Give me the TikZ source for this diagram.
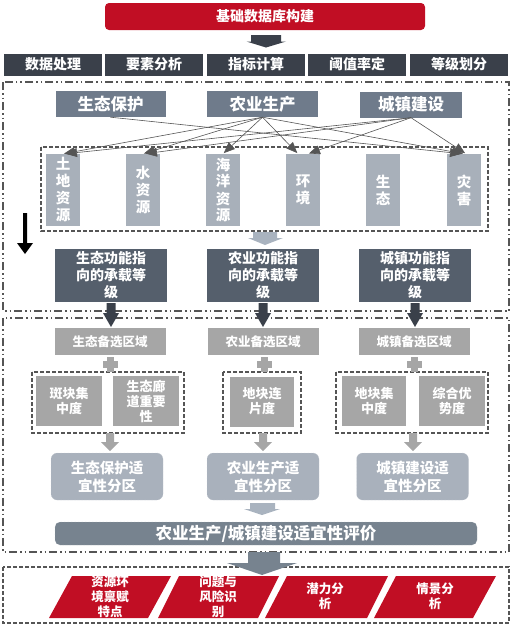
\documentclass[tikz,border=0pt]{standalone}
\usepackage{fontspec}
\setmainfont{Noto Sans CJK SC}
\usetikzlibrary{arrows.meta}
\definecolor{cRed}{HTML}{C10E24}
\definecolor{cDark}{HTML}{3A404A}
\definecolor{cHead}{HTML}{6F7B8B}
\definecolor{cFunc}{HTML}{555F6C}
\definecolor{cRes}{HTML}{A8B0BA}
\definecolor{cGray}{HTML}{A6A6A6}
\definecolor{cSuit}{HTML}{A9B1BC}
\definecolor{cEval}{HTML}{77838F}
\definecolor{cLine}{HTML}{555555}
\definecolor{cLight}{HTML}{A9B3BF}
\begin{document}
\begin{tikzpicture}[x=1pt,y=-1pt,
  every node/.style={inner sep=0pt, text=white, align=center},
  redbox/.style={fill=cRed, rounded corners=4pt, minimum width=320pt, minimum height=27pt, font=\bfseries\fontsize{14}{16}\selectfont},
  rowbox/.style={fill=cDark, minimum width=98pt, minimum height=22pt, font=\bfseries\fontsize{14}{16}\selectfont},
  headbox/.style={fill=cHead, minimum height=26pt, font=\bfseries\fontsize{16.5}{18}\selectfont},
  resbox/.style={fill=cRes, minimum width=34pt, minimum height=72pt, font=\bfseries\fontsize{14.5}{17}\selectfont},
  funcbox/.style={fill=cFunc, minimum width=112pt, minimum height=53pt, font=\bfseries\fontsize{14}{17}\selectfont},
  candbox/.style={fill=cGray, minimum width=111pt, minimum height=27pt, font=\bfseries\fontsize{12.5}{14}\selectfont},
  critbox/.style={fill=cGray, minimum width=66pt, minimum height=50pt, font=\bfseries\fontsize{13}{15}\selectfont},
  suitbox/.style={fill=cSuit, draw=cSuit!60!white, densely dotted, rounded corners=6pt, minimum width=112pt, minimum height=47pt, font=\bfseries\fontsize{14.5}{18}\selectfont},
  evalbox/.style={fill=cEval, draw=cEval!60!white, densely dotted, rounded corners=5pt, minimum width=422pt, minimum height=23pt, font=\bfseries\fontsize{16.5}{18}\selectfont},
  redtext/.style={font=\bfseries\fontsize{12.5}{15}\selectfont},
  ddframe/.style={draw=cLine, line width=1.2pt, dash pattern=on 8pt off 3pt on 1.5pt off 3pt on 1.5pt off 3pt},
  dframe/.style={draw=cLine, line width=1.2pt, dash pattern=on 4pt off 2pt},
  conn/.style={draw=cLine, line width=0.6pt, -{Triangle[length=11pt,width=9pt]}, shorten >=1pt}
]
\useasboundingbox (0,0) rectangle (511,627);

% frames
\draw[ddframe] (3,82) rectangle (509,311);
\draw[ddframe] (3,318) rectangle (509,552);
\draw[dframe] (41,147) rectangle (488,231);
\draw[dframe] (32,372) rectangle (184,433);
\draw[dframe] (223,372) rectangle (301,433);
\draw[dframe] (336,372) rectangle (488,433);
\draw[dframe] (3,567) rectangle (509,623);

% top
\node[redbox] (top) at (265,16.5) {基础数据库构建};
\coordinate (a0) at (266,35);
\fill[cDark] ([xshift=-15pt]a0) -- ++(30,0) -- ++(0,6.5) -- ++(5,0) -- (266,47.5) -- ++(-19.5,-6) -- ++(4.5,0) -- cycle;

\node[rowbox] (r1) at (53,64.5) {数据处理};
\node[rowbox] (r2) at (154,64.5) {要素分析};
\node[rowbox] (r3) at (256,64.5) {指标计算};
\node[rowbox] (r4) at (357,64.5) {阈值率定};
\node[rowbox] (r5) at (459,64.5) {等级划分};

% headers
\node[headbox, minimum width=110pt] (shengtai) at (110.5,104) {生态保护};
\node[headbox, minimum width=111pt] (nongye) at (262.5,104) {农业生产};
\node[headbox, minimum width=102pt] (chengzhen) at (411,104.5) {城镇建设};

% resources
\node[resbox] (tudi) at (63,190) {土\\地\\资\\源};
\node[resbox] (shui) at (143,190) {水\\资\\源};
\node[resbox] (haiyang) at (223,190) {海\\洋\\资\\源};
\node[resbox] (huanjing) at (303,190) {环\\境};
\node[resbox] (shengtaiR) at (383,190) {生\\态};
\node[resbox] (zaihai) at (464,190) {灾\\害};

\foreach \t in {tudi,shui,haiyang,zaihai} \draw[conn] (nongye.south) -- (\t.north);
\draw[conn] (nongye.south) -- ([xshift=-5pt]huanjing.north);
\foreach \t in {tudi,shui,zaihai} \draw[conn] (chengzhen.south) -- ([xshift=2pt]\t.north);
\draw[conn] (chengzhen.south) -- ([xshift=5pt]huanjing.north);
\draw[conn] (shengtai.south) -- ([xshift=-2pt]zaihai.north);

% black arrow
\fill[black] (23,213) -- (27,213) -- (27,243) -- (33,243) -- (25,254) -- (17,243) -- (23,243) -- cycle;

% light arrow 1
\fill[cLight] (253,232) -- (277,232) -- (277,238) -- (283,238) -- (265,245) -- (248,238) -- (253,238) -- cycle;

% function boxes
\node[funcbox] (f1) at (111,275.5) {生态功能指\\向的承载等\\级};
\node[funcbox] (f2) at (263,275.5) {农业功能指\\向的承载等\\级};
\node[funcbox] (f3) at (415,275.5) {城镇功能指\\向的承载等\\级};

\foreach \x in {111,263,415}{
  \fill[cDark] (\x-4.5,303) -- (\x+4.5,303) -- (\x+4.5,313) -- (\x+8,313) -- (\x,327) -- (\x-8,313) -- (\x-4.5,313) -- cycle;
}

% candidate boxes
\node[candbox] (c1) at (110,341.5) {生态备选区域};
\node[candbox] (c2) at (263,341.5) {农业备选区域};
\node[candbox] (c3) at (414,341.5) {城镇备选区域};

\foreach \x in {110,264,414}{
  \fill[cGray] (\x-7.5,361) rectangle (\x+7.5,368);
  \fill[cGray] (\x-3.5,357) rectangle (\x+3.5,372);
}

% criteria
\node[critbox] (k1) at (69,401) {斑块集\\中度};
\node[critbox] (k2) at (146,401) {生态廊\\道重要\\性};
\node[critbox, minimum width=64pt] (k3) at (262,401.5) {地块连\\片度};
\node[critbox, minimum width=64pt] (k4) at (374,401) {地块集\\中度};
\node[critbox] (k5) at (452,401) {综合优\\势度};

\foreach \x in {110,263,413}{
  \fill[cGray] (\x-4,433) -- (\x+4,433) -- (\x+4,442) -- (\x+9,442) -- (\x,451) -- (\x-9,442) -- (\x-4,442) -- cycle;
}

% suitability
\node[suitbox] (s1) at (107,476.5) {生态保护适\\宜性分区};
\node[suitbox] (s2) at (263,476.5) {农业生产适\\宜性分区};
\node[suitbox] (s3) at (412.5,476.5) {城镇建设适\\宜性分区};

% light arrow 2
\fill[cLight] (250,503) -- (275,503) -- (275,509) -- (280,509) -- (262,515) -- (244,509) -- (250,509) -- cycle;

\node[evalbox] (ev) at (266,533.5) {农业生产/城镇建设适宜性评价};

% big slate arrow
\fill[cEval] (248,552) -- (280,552) -- (280,563) -- (297,563) -- (262,575) -- (227,563) -- (248,563) -- cycle;

% red parallelograms
\fill[cRed] (49,618) -- (72,576) -- (171,576) -- (148,618) -- cycle;
\fill[cRed] (158,618) -- (179,576) -- (279,576) -- (258,618) -- cycle;
\fill[cRed] (265,618) -- (287,576) -- (388,576) -- (367,618) -- cycle;
\fill[cRed] (374,618) -- (396,576) -- (496,576) -- (473,618) -- cycle;
\node[redtext] (p1) at (110,597) {资源环\\境禀赋\\特点};
\node[redtext] (p2) at (218,597) {问题与\\风险识\\别};
\node[redtext] (p3) at (325,596) {潜力分\\析};
\node[redtext] (p4) at (435,596) {情景分\\析};
\end{tikzpicture}
\end{document}
